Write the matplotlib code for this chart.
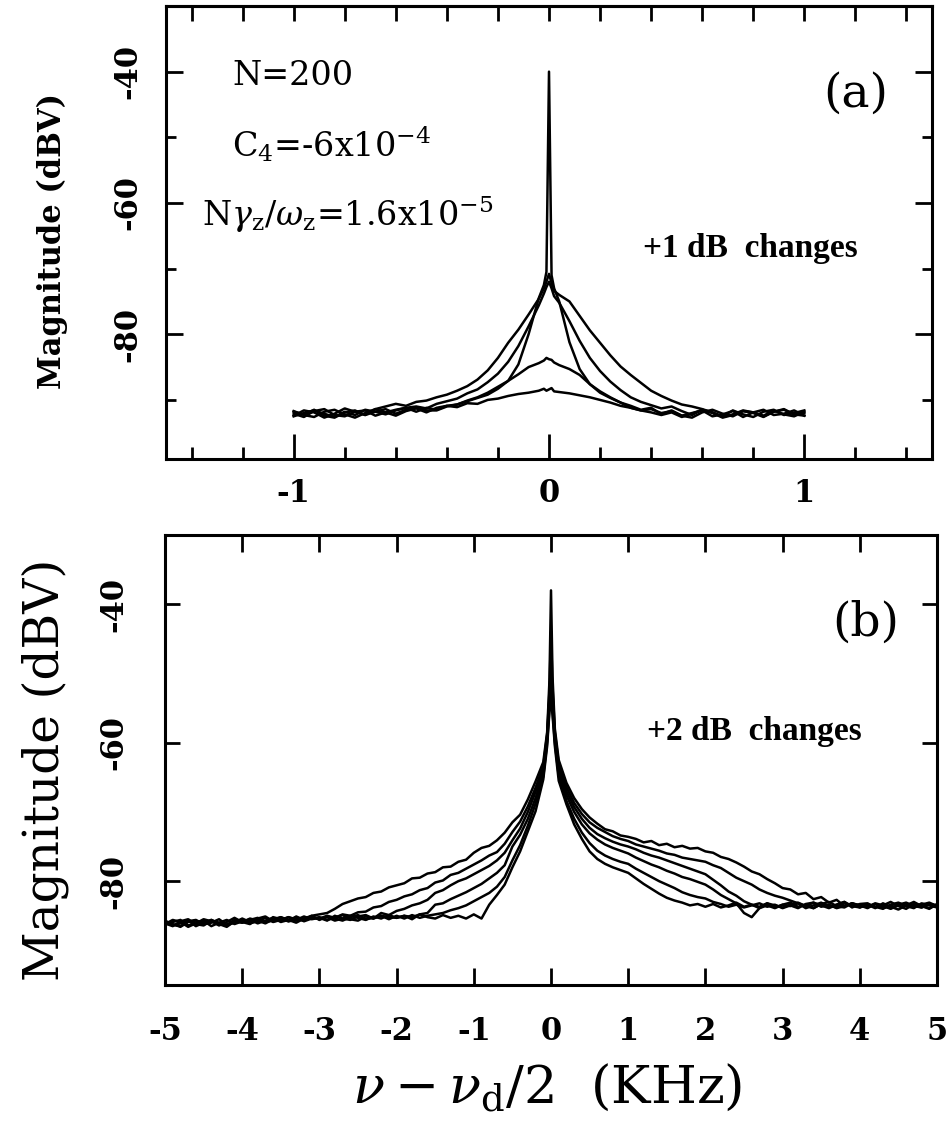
import numpy as np
import matplotlib
matplotlib.use('Agg')
import matplotlib.pyplot as plt

plt.rcParams['font.family'] = ['DejaVu Serif']
plt.rcParams['mathtext.fontset'] = 'dejavuserif'

# ---------------- panel (a): +1 dB steps, span -1..1 kHz ----------------
xa = np.r_[np.linspace(-1.0, -0.04, 25), -0.02, -0.01, 0.0, 0.01, 0.02, np.linspace(0.04, 1.0, 25)]

a_broad = [-92.4, -91.6, -91.9, -92.7, -92.1, -91.3, -91.8, -92.3, -91.4, -91.0, -90.6, -90.9, -90.3,
           -90.1, -89.6, -89.2, -88.6, -87.9, -86.9, -85.5, -83.6, -81.3, -79.3, -77.0, -74.6,
           -73.0, -72.0, -70.8, -72.2, -73.4,
           -74.0, -75.0, -77.2, -79.4, -81.3, -83.2, -84.9, -86.2, -87.4, -88.6, -89.4, -90.1, -90.7,
           -91.0, -91.4, -91.9, -92.5, -91.6, -92.2, -92.6, -91.8, -91.5, -92.3, -92.0, -91.6]
a_spike = [-91.7, -92.3, -92.6, -91.8, -91.5, -92.2, -92.7, -92.0, -91.4, -91.9, -92.4, -91.7, -91.3,
           -91.9, -91.2, -90.9, -90.7, -90.2, -89.7, -89.2, -88.3, -87.1, -84.6, -80.0, -74.5,
           -72.5, -70.5, -40.0, -71.0, -73.0,
           -75.0, -81.2, -85.3, -87.6, -88.7, -89.6, -90.4, -90.9, -91.5, -91.2, -92.2, -91.6, -92.4,
           -92.7, -91.9, -91.5, -92.1, -92.5, -91.7, -92.0, -92.6, -91.8, -91.4, -92.2, -92.4]
a_mid = [-92.1, -92.6, -91.7, -91.4, -92.3, -92.5, -91.8, -91.6, -92.4, -91.9, -91.5, -91.2, -91.0,
         -91.3, -90.6, -90.2, -89.8, -89.0, -88.4, -87.3, -86.0, -84.2, -81.8, -78.8, -75.6,
         -73.8, -72.8, -72.0, -73.0, -74.2,
         -75.2, -78.0, -81.0, -83.6, -85.6, -87.2, -88.5, -89.6, -90.3, -90.8, -91.3, -91.0, -91.7,
         -92.3, -91.5, -91.9, -92.6, -92.2, -91.6, -91.9, -92.5, -91.8, -91.5, -92.2, -92.0]
a_low = [-91.8, -92.2, -91.5, -92.4, -92.7, -91.9, -91.6, -92.3, -91.8, -91.4, -92.1, -91.5, -91.1,
         -91.6, -91.6, -91.0, -90.7, -90.1, -89.6, -88.9, -88.0, -87.1, -86.1, -85.0, -84.4,
         -84.0, -83.6, -83.8, -83.9, -84.3,
         -84.7, -85.3, -86.2, -87.6, -88.9, -89.7, -90.4, -91.2, -91.6, -91.9, -92.3, -91.9, -92.6,
         -92.1, -91.5, -92.0, -92.7, -92.3, -91.7, -91.9, -92.4, -91.6, -92.2, -92.5, -91.8]
a_flat = [-92.5, -92.0, -91.6, -92.1, -92.6, -91.8, -92.3, -91.5, -91.8, -92.2, -91.6, -91.2, -91.8,
          -91.2, -91.5, -90.9, -91.1, -90.5, -90.6, -90.0, -89.8, -89.4, -89.1, -88.9, -88.6,
          -88.3, -88.6, -88.4, -88.2, -88.7,
          -88.8, -89.0, -89.3, -89.6, -90.0, -90.4, -90.9, -91.2, -91.6, -91.4, -92.0, -91.7, -92.4,
          -92.0, -91.6, -92.5, -92.2, -91.7, -92.6, -91.9, -91.5, -92.3, -92.1, -91.6, -92.4]
traces_a = [a_broad, a_spike, a_mid, a_low, a_flat]

# ---------------- panel (b): +2 dB steps, span -5..5 kHz ----------------
xb = np.r_[np.linspace(-5.0, -0.1, 50), -0.05, -0.02, 0.0, 0.02, 0.05, np.linspace(0.1, 5.0, 50)]

b1 = [-86.2, -85.6, -85.9, -86.6, -86.1, -85.5, -85.8, -86.4, -85.9, -85.3,
      -85.9, -86.2, -85.4, -85.1, -85.8, -85.6, -85.2, -85.5, -85.7, -85.0,
      -84.8, -84.6, -84.0, -83.3, -82.9, -82.5, -82.3, -81.7, -81.5, -80.9,
      -80.6, -80.3, -79.6, -79.5, -78.9, -78.7, -78.0, -77.9, -77.2, -76.9,
      -75.9, -75.2, -74.9, -74.1, -73.0, -71.5, -70.4, -68.2, -65.6, -62.8,
      -58.5, -51.0, -38.0, -50.5, -58.0,
      -62.5, -65.8, -68.0, -69.6, -70.8, -71.7, -72.5, -72.8, -73.4, -73.6,
      -73.9, -74.4, -74.2, -74.8, -74.6, -75.1, -74.9, -75.3, -75.2, -75.7,
      -75.9, -76.5, -76.8, -77.3, -77.9, -78.6, -79.0, -79.7, -80.3, -81.0,
      -81.2, -81.9, -81.7, -82.6, -82.3, -83.1, -82.7, -83.6, -83.2, -83.8,
      -83.4, -83.9, -83.2, -83.7, -84.1, -83.5, -83.0, -83.6, -84.0, -83.3]
b2 = [-85.7, -86.3, -86.5, -85.8, -85.6, -86.2, -86.0, -85.5, -86.3, -86.0,
      -85.4, -85.9, -85.6, -86.0, -85.2, -85.5, -85.8, -85.1, -85.6, -85.3,
      -85.4, -85.0, -85.3, -84.8, -85.0, -84.5, -84.4, -83.8, -83.6, -83.0,
      -82.7, -82.2, -81.9, -81.3, -81.0, -80.2, -79.9, -79.1, -78.8, -78.2,
      -77.6, -77.0, -76.3, -75.8, -74.6, -72.9, -71.4, -69.2, -66.5, -63.4,
      -58.8, -52.5, -44.0, -52.0, -58.5,
      -63.0, -66.4, -68.7, -70.3, -71.5, -72.3, -72.9, -73.5, -73.9, -74.2,
      -74.7, -75.0, -75.3, -75.6, -76.0, -76.2, -76.6, -76.8, -77.0, -77.2,
      -77.7, -78.1, -78.8, -79.5, -80.0, -80.5, -81.2, -81.7, -82.1, -82.4,
      -82.8, -83.2, -83.6, -83.1, -83.5, -83.9, -83.4, -83.0, -83.6, -83.8,
      -83.3, -83.7, -84.0, -83.4, -83.1, -83.6, -83.9, -83.2, -83.5, -83.8]
b3 = [-86.1, -86.5, -85.8, -85.5, -86.2, -86.4, -85.7, -86.0, -86.3, -85.6,
      -86.0, -85.4, -85.7, -86.1, -85.5, -85.2, -85.8, -85.6, -85.1, -85.5,
      -85.3, -85.7, -85.0, -85.4, -85.6, -85.1, -84.9, -85.4, -84.6, -84.9,
      -84.3, -84.0, -83.5, -83.2, -82.7, -81.7, -81.3, -80.6, -80.0, -79.6,
      -79.0, -78.4, -77.8, -77.0, -75.9, -74.1, -72.4, -70.0, -67.1, -63.9,
      -59.2, -53.5, -48.0, -53.0, -59.0,
      -63.6, -67.0, -69.3, -71.0, -72.3, -73.2, -73.8, -74.3, -74.7, -75.0,
      -75.4, -75.9, -76.3, -76.6, -77.0, -77.4, -77.8, -78.2, -78.6, -79.0,
      -79.8, -80.6, -81.5, -82.1, -82.9, -83.4, -83.7, -83.2, -83.8, -83.4,
      -83.1, -83.7, -83.4, -83.9, -83.3, -83.0, -83.6, -83.8, -83.2, -83.5,
      -83.9, -83.3, -83.6, -84.0, -83.5, -83.2, -83.7, -83.4, -83.1, -83.6]
b4 = [-85.8, -86.2, -86.6, -85.9, -85.7, -86.3, -85.6, -86.1, -86.4, -85.9,
      -85.5, -86.1, -85.8, -85.3, -85.9, -85.6, -85.2, -85.7, -85.4, -85.0,
      -85.6, -85.1, -85.4, -85.7, -85.2, -84.9, -85.5, -85.3, -85.0, -85.2,
      -85.3, -85.0, -85.2, -84.8, -84.6, -83.4, -83.2, -82.6, -82.1, -81.6,
      -81.0, -80.4, -79.6, -78.8, -77.7, -75.0, -73.3, -71.0, -68.0, -64.4,
      -59.6, -54.0, -50.0, -54.5, -59.5,
      -64.2, -67.6, -70.0, -71.8, -73.1, -74.0, -74.7, -75.2, -75.6, -76.0,
      -76.6, -77.1, -77.6, -78.0, -78.5, -78.9, -79.4, -79.7, -80.1, -80.5,
      -81.2, -82.0, -82.6, -83.2, -84.6, -85.2, -83.9, -83.5, -83.9, -83.4,
      -83.6, -83.2, -83.9, -83.5, -83.1, -83.7, -83.4, -83.0, -83.8, -83.3,
      -83.2, -83.8, -83.5, -83.0, -83.6, -84.0, -83.3, -83.5, -83.9, -83.4]
b5 = [-86.3, -85.9, -85.6, -86.4, -86.1, -85.7, -86.5, -86.0, -85.6, -86.2,
      -85.8, -85.5, -86.1, -85.7, -85.3, -85.9, -85.6, -85.2, -85.8, -85.4,
      -85.2, -85.6, -85.3, -84.9, -85.5, -85.7, -85.1, -85.4, -85.0, -85.5,
      -85.0, -85.4, -84.9, -85.3, -85.0, -84.8, -84.6, -84.2, -83.9, -83.5,
      -82.9, -82.3, -81.7, -80.8, -79.4, -77.0, -74.8, -72.0, -68.8, -64.9,
      -60.0, -55.0, -52.0, -55.5, -60.0,
      -64.8, -68.4, -71.0, -73.0, -74.5, -75.6, -76.3, -76.8, -77.2, -77.5,
      -78.2, -78.8, -79.4, -80.0, -80.5, -81.0, -81.6, -82.0, -82.3, -82.5,
      -83.0, -83.3, -83.7, -83.4, -83.8, -83.5, -83.2, -83.7, -83.4, -83.9,
      -83.5, -83.9, -83.3, -83.1, -83.7, -83.4, -83.9, -83.6, -83.2, -83.5,
      -83.7, -83.2, -83.5, -83.9, -83.4, -83.1, -83.6, -83.8, -83.3, -83.6]
b6 = [-85.9, -86.4, -86.1, -85.7, -86.5, -86.0, -85.6, -86.2, -86.6, -85.8,
      -86.0, -85.6, -85.3, -85.9, -85.7, -85.2, -85.6, -86.0, -85.4, -85.1,
      -85.5, -85.2, -85.7, -85.4, -85.0, -85.3, -85.6, -85.1, -85.4, -84.9,
      -85.3, -85.0, -85.5, -84.8, -85.2, -85.4, -84.9, -85.3, -85.0, -85.4,
      -84.8, -85.4, -83.4, -82.0, -80.5, -78.0, -75.7, -72.8, -69.9, -65.3,
      -60.5, -55.5, -54.0, -56.0, -60.5,
      -65.5, -68.9, -71.8, -73.9, -75.7, -76.8, -77.5, -78.0, -78.4, -78.8,
      -79.6, -80.4, -81.1, -81.8, -82.4, -82.8, -83.1, -83.5, -83.3, -83.7,
      -83.3, -83.8, -83.5, -83.1, -83.7, -83.4, -83.9, -83.2, -83.5, -83.8,
      -83.4, -83.1, -83.6, -83.9, -83.3, -83.5, -83.8, -83.2, -83.6, -83.4,
      -83.7, -83.3, -83.9, -83.5, -83.2, -83.6, -83.4, -83.8, -83.3, -83.5]
traces_b = [b1, b2, b3, b4, b5, b6]

W, H = 947, 1135
fig = plt.figure(figsize=(W / 100, H / 100), dpi=100)

ax1 = fig.add_axes([166 / W, 1 - 459 / H, 766 / W, 453 / H])
ax2 = fig.add_axes([165 / W, 1 - 985 / H, 772 / W, 450 / H])

lw_frame = 2.2

for y in traces_a:
    ax1.plot(xa, y, color='black', lw=1.8)
for y in traces_b:
    ax2.plot(xb, y, color='black', lw=1.8)

# panel (a) axes
ax1.set_xlim(-1.5, 1.5)
ax1.set_ylim(-99, -30)
ax1.set_xticks([-1, 0, 1])
ax1.set_xticklabels(['-1', '0', '1'])
ax1.set_xticks(np.arange(-1.4, 1.41, 0.2), minor=True)
ax1.set_yticks([-80, -60, -40])
ax1.set_yticklabels(['-80', '-60', '-40'])
ax1.set_yticks([-90, -70, -50], minor=True)
ax1.tick_params(axis='x', which='major', direction='in', length=18, width=2, top=False, pad=14)
ax1.tick_params(axis='x', which='minor', direction='in', length=9, width=2, top=False)
ax1.tick_params(axis='y', which='major', direction='in', length=12, width=2, right=True,
                labelrotation=90, pad=16)
ax1.tick_params(axis='y', which='minor', direction='in', length=7, width=2, right=True)
sec = ax1.secondary_xaxis('top')
sec.set_xticks(np.arange(-1.4, 1.41, 0.2))
sec.set_xticklabels([])
sec.tick_params(direction='in', length=11, width=2)
sec.spines['top'].set_linewidth(lw_frame)

# panel (b) axes
ax2.set_xlim(-5, 5)
ax2.set_ylim(-95, -30)
ax2.set_xticks(np.arange(-5, 6, 1))
ax2.set_xticklabels([str(v) if v >= 0 else '-' + str(-v) for v in range(-5, 6)])
ax2.set_yticks([-80, -60, -40])
ax2.set_yticklabels(['-80', '-60', '-40'])
ax2.tick_params(axis='x', which='major', direction='in', length=12, width=2, top=True, pad=22)
ax2.tick_params(axis='y', which='major', direction='in', length=11, width=2, right=True,
                labelrotation=90, pad=26)

for ax in (ax1, ax2):
    for s in ax.spines.values():
        s.set_linewidth(lw_frame)
    for lab in ax.get_xticklabels() + ax.get_yticklabels():
        lab.set_fontsize(22)
        lab.set_fontweight('bold')
    for lab in ax.get_yticklabels():
        lab.set_va('center')

# annotations in panel (a)
ax1.text(-1.24, -40.6, 'N=200', fontsize=24, va='center', ha='left')
ax1.text(-1.24, -51.0, r'C$_4$=-6x10$^{-4}$', fontsize=24, va='center', ha='left')
ax1.text(-1.36, -61.7, r'N$\gamma_{\rm z}$/$\omega_{\rm z}$=1.6x10$^{-5}$', fontsize=24,
         va='center', ha='left')
ax1.text(1.20, -43.4, '(a)', fontsize=34, va='center', ha='center')
ax1.text(0.37, -66.9, '+1 dB  changes', fontsize=24, fontweight='bold', va='center', ha='left',
         family='Liberation Serif')

# annotations in panel (b)
ax2.text(4.08, -42.7, '(b)', fontsize=34, va='center', ha='center')
ax2.text(1.24, -58.4, '+2 dB  changes', fontsize=24, fontweight='bold', va='center', ha='left',
         family='Liberation Serif')

fig.text(52 / W, 1 - 241 / H, 'Magnitude (dBV)', rotation=90, fontsize=22, fontweight='bold',
         ha='center', va='center')
fig.text(45 / W, 1 - 770 / H, 'Magnitude (dBV)', rotation=90, fontsize=35,
         ha='center', va='center')
fig.text(547 / W, 1 - 1088 / H, r'$\nu-\nu_{\rm d}/2$  (KHz)', fontsize=38,
         ha='center', va='center')

fig.savefig('out.png', dpi=100)
